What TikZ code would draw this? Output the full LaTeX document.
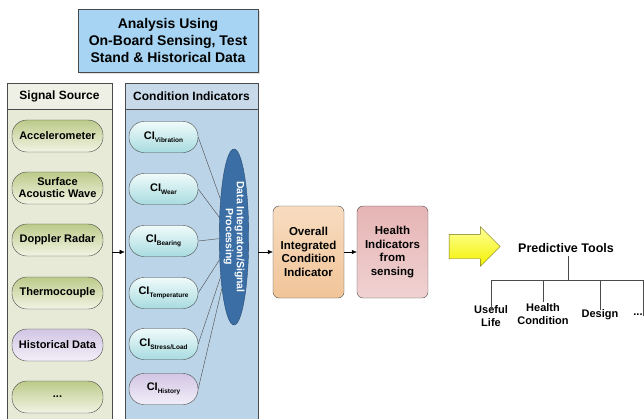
\documentclass[tikz,border=0pt]{standalone}
\usepackage{fontspec}
\setmainfont{Liberation Sans}
\usepackage{xcolor}
\usetikzlibrary{arrows.meta, positioning, shapes.geometric, shapes.arrows, shadows}

\definecolor{boxline}{HTML}{4A4A4A}
\definecolor{topblue}{HTML}{A6D4F2}
\definecolor{srcfill}{HTML}{E6EAD6}
\definecolor{srchdr}{HTML}{EEF0E6}
\definecolor{cifill}{HTML}{BCD4E8}
\definecolor{cihdr}{HTML}{C8DAEA}
\definecolor{ellblue}{HTML}{3A6EA5}
\definecolor{greentop}{HTML}{BCCA8A}
\definecolor{greenbot}{HTML}{F2F4E4}
\definecolor{cyantop}{HTML}{F0FAFA}
\definecolor{cyanbot}{HTML}{A8DCE0}
\definecolor{lilactop}{HTML}{D2C6E4}
\definecolor{lilacbot}{HTML}{F2EEF8}
\definecolor{peachtop}{HTML}{F8DCC0}
\definecolor{peachbot}{HTML}{F0C498}
\definecolor{rosetop}{HTML}{E6B4B4}
\definecolor{rosebot}{HTML}{F0D2D2}
\definecolor{arryel}{HTML}{F2F200}

\newcommand{\cisub}[1]{CI\raisebox{-0.45ex}{\fontsize{6.5}{7}\selectfont #1}}

\begin{document}
\begin{tikzpicture}[
    x=1pt, y=-1pt,
    font=\fontsize{11}{13}\selectfont\bfseries,
    panel/.style={rectangle, draw=boxline, semithick, minimum width=#1, minimum height=337pt, inner sep=0pt},
    hdr/.style={rectangle, draw=boxline, semithick, minimum width=#1, minimum height=26pt,
                inner sep=0pt, font=\fontsize{12}{14}\selectfont\bfseries},
    srcpill/.style={rectangle, rounded corners=15pt, draw=boxline, thin,
                    top color=greentop, bottom color=greenbot,
                    minimum width=91pt, minimum height=32pt, inner sep=1pt, align=center},
    cipill/.style={rectangle, rounded corners=15pt, draw=boxline, thin,
                   top color=cyantop, bottom color=cyanbot,
                   minimum width=69pt, minimum height=31pt, inner sep=1pt, align=center},
    histpill/.style={top color=lilactop, bottom color=lilacbot},
    procbox/.style={rectangle, rounded corners=6pt, draw=boxline, thin,
                    minimum width=71pt, minimum height=92pt, align=center,
                    font=\fontsize{11.5}{13.5}\selectfont\bfseries},
    leaf/.style={align=center, inner sep=1pt, font=\fontsize{11}{13}\selectfont\bfseries},
    tree/.style={draw=boxline, thin},
    arr/.style={-{Latex[length=5pt, width=4.5pt]}, thin, black}
  ]
    \clip (0,0) rectangle (644,418);
    \fill[white] (0,0) rectangle (644,418);

    %% ── Title box
    \node[rectangle, draw=boxline, semithick, fill=topblue, drop shadow={opacity=0.25, shadow xshift=2pt, shadow yshift=-2pt},
          minimum width=180pt, minimum height=63pt, align=center,
          font=\fontsize{14}{17}\selectfont\bfseries] (title) at (168, 40.5)
          {Analysis Using\\On-Board Sensing, Test\\Stand \& Historical Data};

    %% ── Panels
    \node[panel=105pt, fill=srcfill] (srcpanel) at (59.5, 252) {};
    \node[hdr=105pt, fill=srchdr, anchor=north] (srchead) at (srcpanel.north) {Signal Source};
    \node[panel=133pt, fill=cifill] (cipanel) at (191.5, 252) {};
    \node[hdr=133pt, fill=cihdr, anchor=north] (cihead) at (cipanel.north) {Condition Indicators};

    %% ── Signal sources
    \node[srcpill] (acc)  at (57.5, 136) {Accelerometer};
    \node[srcpill] (saw)  at (57.5, 188) {Surface\\[-1pt]Acoustic Wave};
    \node[srcpill] (dop)  at (57.5, 240) {Doppler Radar};
    \node[srcpill] (thc)  at (57.5, 293) {Thermocouple};
    \node[srcpill, histpill] (hist) at (57.5, 345) {Historical Data};
    \node[srcpill] (more) at (57.5, 397) {...};

    %% ── Condition indicators
    \node[cipill] (ci1) at (163.5, 137) {\cisub{Vibration}};
    \node[cipill] (ci2) at (163.5, 189) {\cisub{Wear}};
    \node[cipill] (ci3) at (163.5, 241) {\cisub{Bearing}};
    \node[cipill] (ci4) at (163.5, 293) {\cisub{Temperature}};
    \node[cipill] (ci5) at (163.5, 344) {\cisub{Stress/Load}};
    \node[cipill, histpill] (ci6) at (163.5, 389) {\cisub{History}};

    %% Data integration ellipse
    \node[ellipse, draw=ellblue!70!black, fill=ellblue, rotate=-90, minimum width=176pt,
          minimum height=25pt, inner sep=0pt, align=center, text=white,
          font=\fontsize{10.5}{11}\selectfont\bfseries] (integ) at (234, 237)
          {Data Integraton/Signal\\Processing};

    \foreach \c in {ci1, ci2, ci3, ci4, ci5, ci6}
      \draw[boxline, thin] (\c.east) -- (integ);

    %% ── Processing boxes
    \node[procbox, top color=peachtop, bottom color=peachbot] (overall) at (308.5, 252)
          {Overall\\Integrated\\Condition\\Indicator};
    \node[procbox, top color=rosetop, bottom color=rosebot] (health) at (392.5, 252)
          {Health\\Indicators\\from\\sensing};

    %% Arrows
    \draw[arr] (srcpanel) -- (cipanel);
    \draw[arr] (cipanel) -- (overall);
    \draw[arr] (overall) -- (health);

    %% ── Big yellow arrow
    \node[single arrow, draw=olive!80!black, thin, top color=yellow!40!white, bottom color=arryel,
          minimum height=51pt, inner xsep=0pt, inner ysep=12pt, single arrow head extend=7.5pt,
          single arrow head indent=0pt] (bigarr) at (468.5, 246.5) {};

    %% ── Predictive tools
    \node[font=\fontsize{12.5}{15}\selectfont\bfseries] (ptools) at (566, 248) {Predictive Tools};
    \coordinate (hub) at (568, 280);
    \node[leaf] (ulife) at (491, 316) {Useful\\Life};
    \node[leaf] (hcond) at (543, 314) {Health\\Condition};
    \node[leaf] (design) at (600, 315) {Design};
    \node[leaf] (etc) at (638, 315) {...};

    \draw[tree] (ptools.south -| hub) -- (hub);
    \draw[tree] ([yshift=-5pt]ulife.north) |- (hub);
    \draw[tree] (hub) -| ([xshift=5pt, yshift=-3pt]etc.north) -- ++(0,0);
    \draw[tree] (hub) -- (644, 280);
    \draw[tree] (hcond.north) -- (hcond.north |- hub);
    \draw[tree] ([yshift=-1pt]design.north) -- (design.north |- hub);

  \end{tikzpicture}
\end{document}
